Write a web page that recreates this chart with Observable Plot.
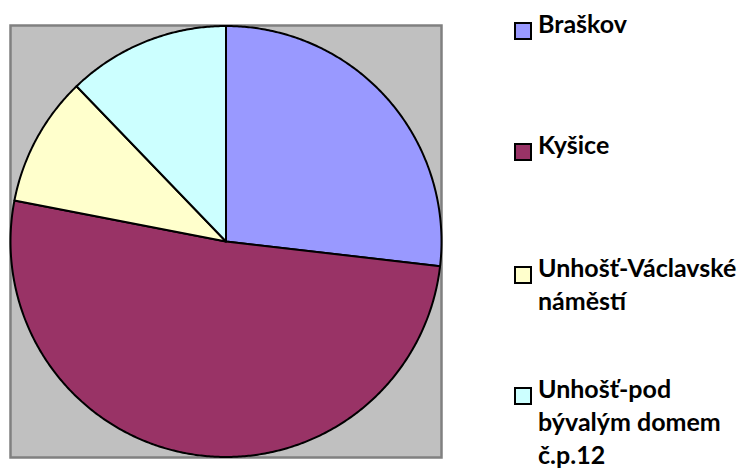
<!DOCTYPE html>
<html>
<head>
<meta charset="utf-8">
<script src="https://cdn.jsdelivr.net/npm/d3@7"></script>
<script src="https://cdn.jsdelivr.net/npm/@observablehq/plot@0.6"></script>
<style>
  html, body { margin: 0; padding: 0; background: #fff; }
  #wrap { position: relative; width: 751px; height: 472px; overflow: hidden; }
  #wrap svg { position: absolute; left: 0; top: 0; }
  .item { position: absolute; left: 514px; width: 237px; font-family: Lato, sans-serif; font-weight: bold; font-size: 25px; line-height: 33px; color: #000; }
  .sw { position: absolute; left: 0; width: 14px; height: 14px; border: 2px solid #000; box-sizing: content-box; }
  .lbl { margin-left: 24px; width: 213px; }
</style>
</head>
<body>
<div id="wrap"></div>
<script>
const categories = ["Braškov", "Kyšice", "Unhošť-Václavské náměstí", "Unhošť-pod bývalým domem č.p.12"];
const values = [11, 21, 4, 5];
const colors = ["#9999ff", "#993366", "#ffffcc", "#ccffff"];

// layout (not data)
const legendTops = [7, 128, 251, 372];

const arcs = d3.pie().sort(null).value(d => d)(values);
const features = arcs.map((a, i) => {
  const ring = [[0, 0]];
  const n = Math.max(8, Math.ceil((a.endAngle - a.startAngle) / (Math.PI / 360)));
  for (let k = 0; k <= n; k++) {
    const t = a.startAngle + (a.endAngle - a.startAngle) * k / n;
    ring.push([Math.sin(t), -Math.cos(t)]);
  }
  ring.push([0, 0]);
  return {type: "Feature", properties: {name: categories[i]}, geometry: {type: "Polygon", coordinates: [ring]}};
});
const fc = {type: "FeatureCollection", features};

const plot = Plot.plot({
  width: 751,
  height: 472,
  marginLeft: 10,
  marginTop: 25,
  marginRight: 310,
  marginBottom: 15,
  projection: {type: "identity", domain: fc, inset: 0},
  color: {domain: categories, range: colors},
  marks: [
    Plot.frame({fill: "#c0c0c0", stroke: "#808080", strokeWidth: 2.5}),
    Plot.geo(features, {fill: d => d.properties.name, stroke: "#000", strokeWidth: 2, strokeLinejoin: "round"})
  ]
});
const wrap = document.getElementById("wrap");
wrap.appendChild(plot);

categories.forEach((c, i) => {
  const it = document.createElement("div");
  it.className = "item";
  it.style.top = legendTops[i] + "px";
  const sw = document.createElement("div");
  sw.className = "sw";
  sw.style.top = "15px";
  sw.style.background = colors[i];
  const lb = document.createElement("div");
  lb.className = "lbl";
  lb.textContent = c;
  it.appendChild(sw);
  it.appendChild(lb);
  wrap.appendChild(it);
});
</script>
</body>
</html>
